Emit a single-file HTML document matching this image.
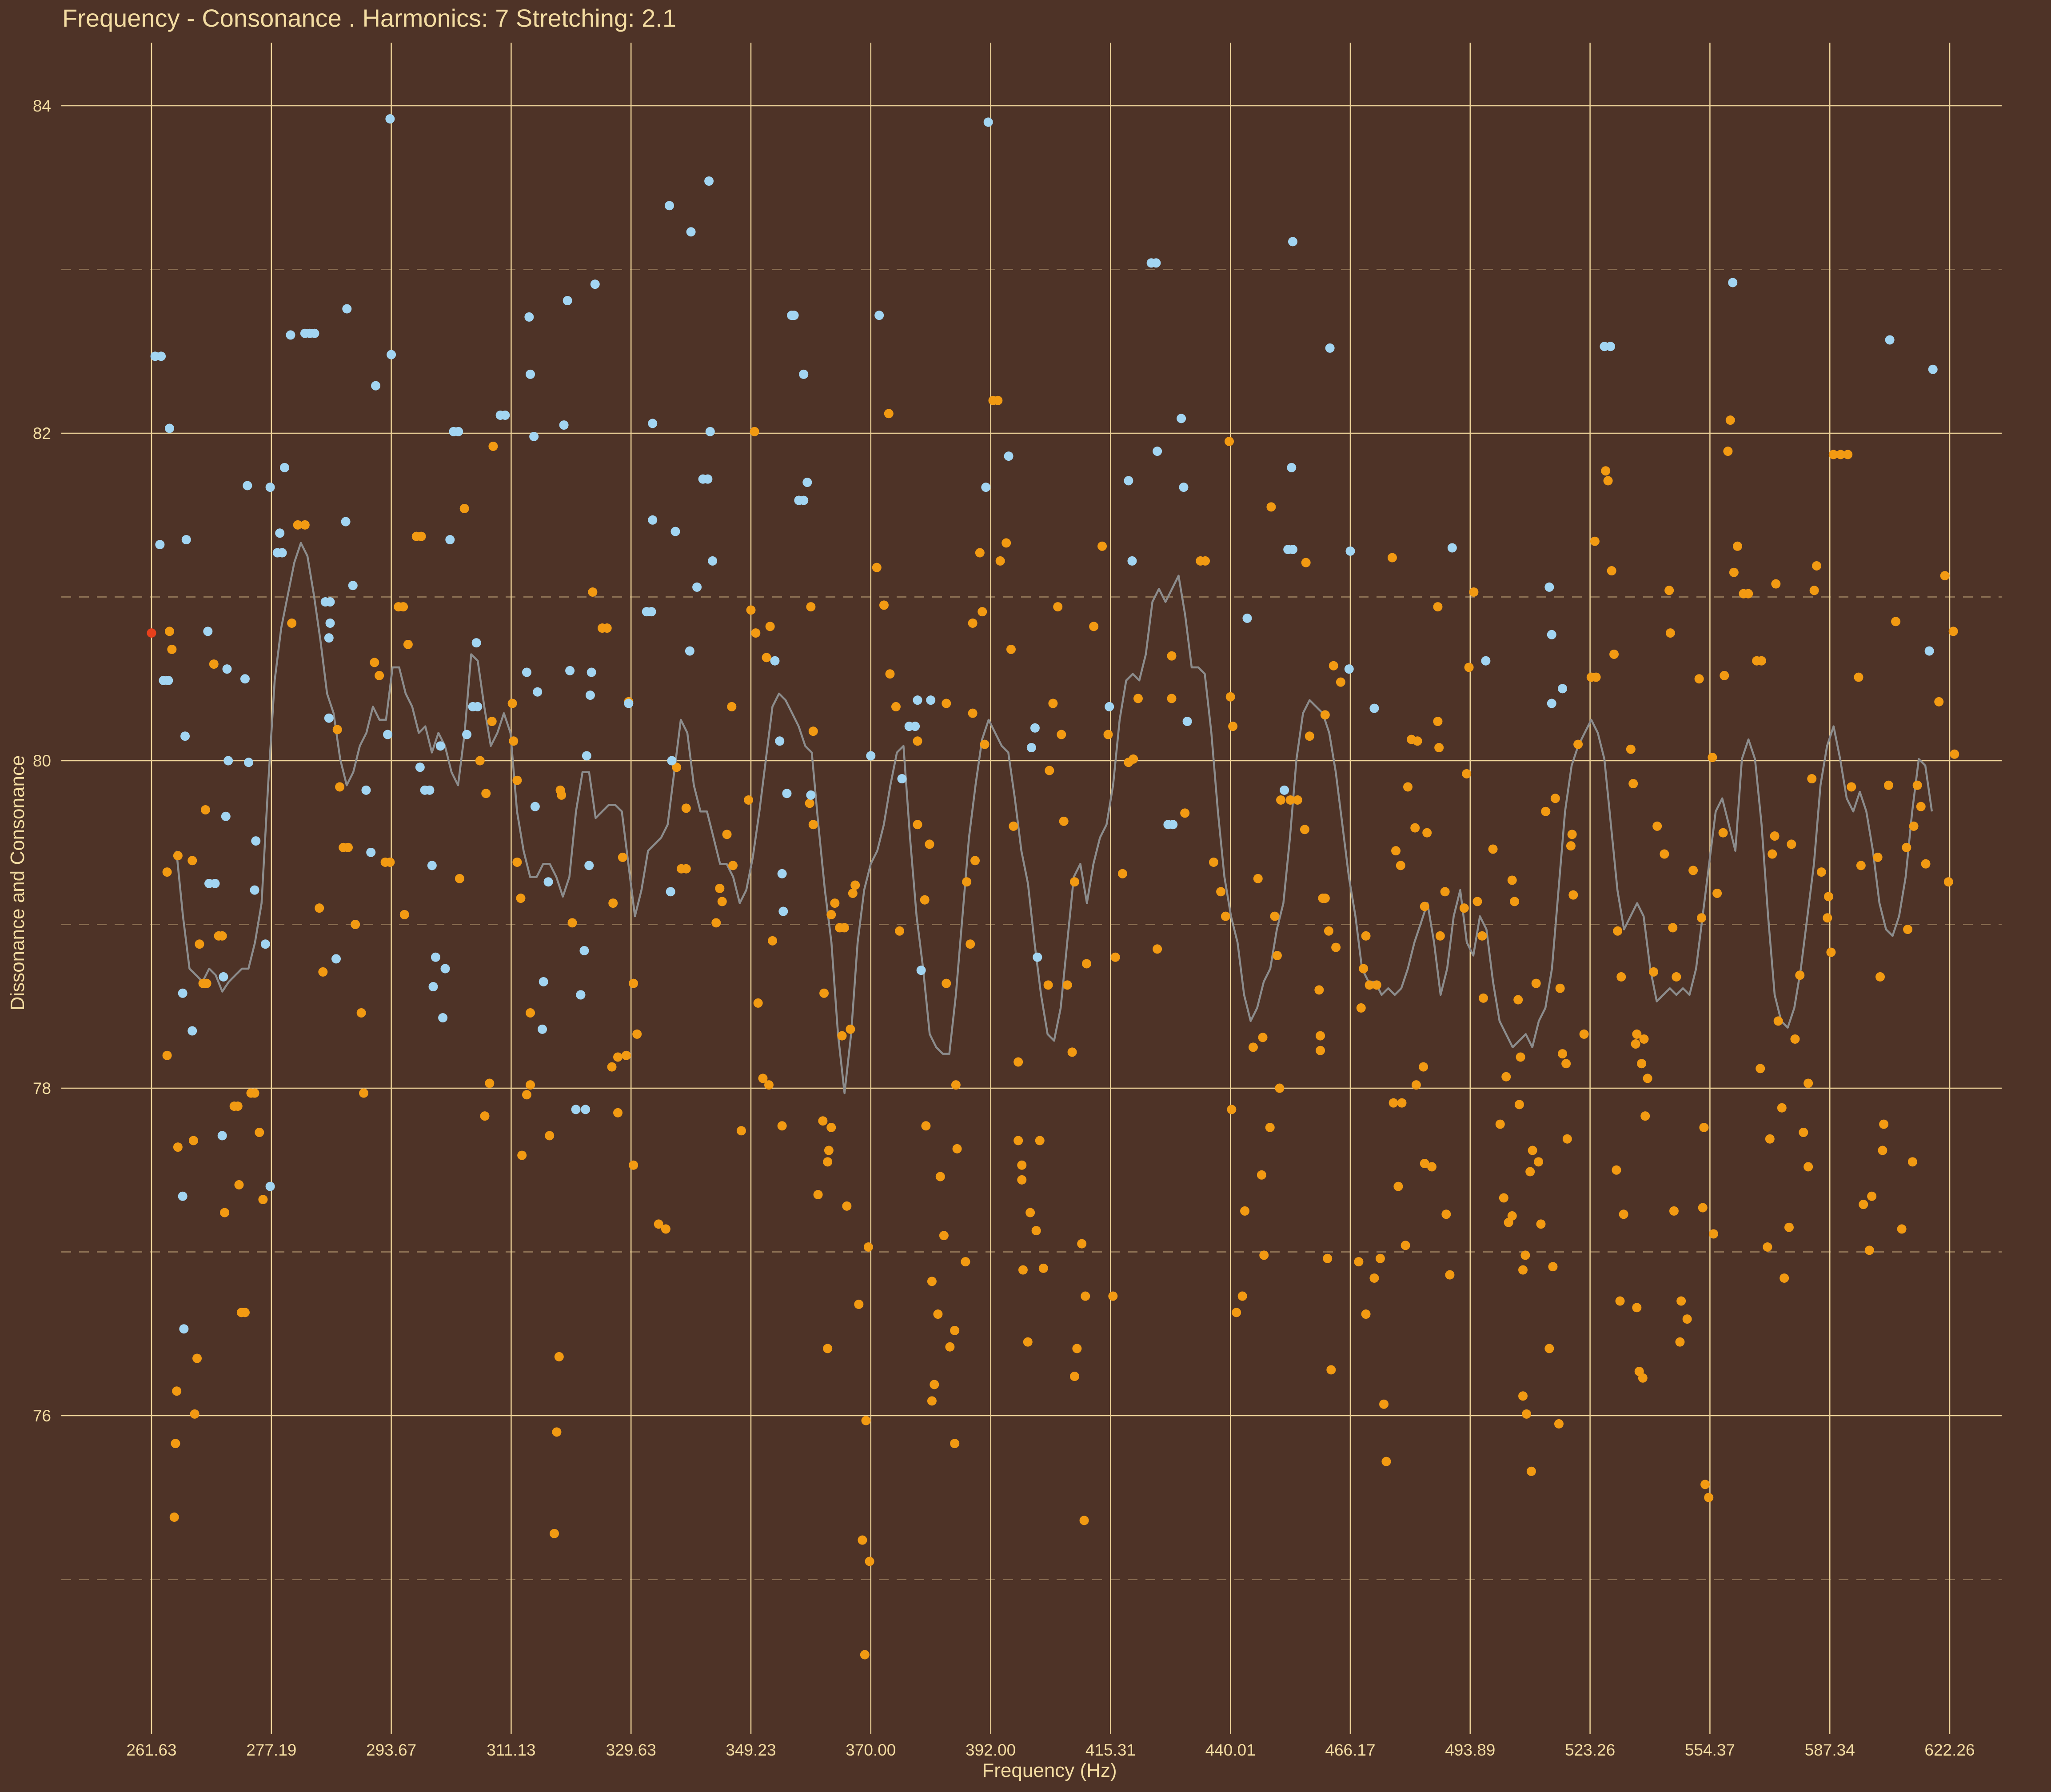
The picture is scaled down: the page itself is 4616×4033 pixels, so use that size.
<!DOCTYPE html>
<html><head><meta charset="utf-8"><style>
html,body{margin:0;padding:0;background:#4E3327;}
svg{display:block;font-family:"Liberation Sans",sans-serif;}
</style></head><body>
<svg id="chart" width="4616" height="4033" viewBox="0 0 4616 4033" xmlns="http://www.w3.org/2000/svg">
<rect x="0" y="0" width="4616" height="4033" fill="#4E3327"/>
<text x="140" y="60" font-size="56" fill="#F3DCA2">Frequency - Consonance . Harmonics: 7 Stretching: 2.1</text>
<g id="grid"></g>
<g id="axes"></g>
<g id="marks"></g>
<text x="2362" y="3999" font-size="44" fill="#F3DCA2" text-anchor="middle">Frequency (Hz)</text>
<text x="54" y="1987" font-size="44" fill="#F3DCA2" text-anchor="middle" transform="rotate(-90 54 1987)">Dissonance and Consonance</text>
</svg>
<script>
const xTickLabels = ["261.63","277.19","293.67","311.13","329.63","349.23","370.00","392.00","415.31","440.01","466.17","493.89","523.26","554.37","587.34","622.26"];
const yTickValues = [76,78,80,82,84];
const yMinorValues = [75,77,79,81,83];
// dissonant points (semitone offset from 261.63 Hz, consonance value)
const blueSemitones = [0.03,0.08,0.07,0.10,0.14,0.15,0.28,0.29,0.26,0.34,0.26,0.27,0.47,0.48,0.53,0.59,0.60,0.63,0.64,0.62,0.80,0.78,0.81,0.86,0.87,0.95,0.99,0.99,1.05,1.09,1.07,1.11,1.16,1.28,1.32,1.36,1.45,1.49,1.49,1.48,1.48,1.54,1.63,1.62,1.68,1.79,1.83,1.87,1.97,1.99,2.00,2.24,2.28,2.32,2.34,2.37,2.35,2.45,2.43,2.41,2.49,2.52,2.56,2.63,2.68,2.72,2.71,2.91,2.95,3.13,3.15,3.16,3.19,3.20,3.22,3.26,3.27,3.31,3.44,3.47,3.49,3.54,3.58,3.58,3.62,3.61,3.63,3.66,3.67,3.65,3.70,3.98,4.13,4.17,4.18,4.18,4.32,4.34,4.33,4.37,4.50,4.49,4.55,4.60,4.64,4.65,4.66,4.68,5.20,5.24,5.26,5.27,5.30,5.34,5.36,5.40,5.40,5.44,5.44,5.47,5.50,6.00,6.07,6.26,6.32,6.37,6.39,6.42,6.50,6.96,6.98,7.15,7.34,7.37,7.39,7.99,8.15,8.18,8.34,8.38,8.39,8.48,8.52,8.59,8.61,8.64,9.14,9.45,9.48,9.52,9.51,9.52,9.83,9.99,10.00,10.20,10.85,11.13,11.66,11.68,11.68,11.77,12.12,12.17,13.19,14.50,14.86,14.83];
const blueValues = [82.47,82.47,81.32,80.49,80.49,82.03,80.15,81.35,78.58,78.35,77.34,76.53,80.79,79.25,79.25,77.71,78.68,80.56,80.00,79.66,81.68,80.50,79.99,79.21,79.51,78.88,81.67,77.40,81.27,81.27,81.39,81.79,82.60,82.61,82.61,82.61,80.97,80.97,80.84,80.75,80.26,78.79,82.76,81.46,81.07,79.82,79.44,82.29,80.16,83.92,82.48,79.96,79.82,79.82,79.36,78.80,78.62,78.73,78.43,80.09,81.35,82.01,82.01,80.16,80.33,80.33,80.72,82.11,82.11,80.54,82.71,82.36,81.98,79.72,80.42,78.36,78.65,79.26,82.05,82.81,80.55,77.87,78.57,78.57,77.87,78.84,80.03,80.40,80.54,79.36,82.91,80.35,80.91,80.91,81.47,82.06,83.39,80.00,79.20,81.40,83.23,80.67,81.06,81.72,81.72,83.54,82.01,81.22,80.61,80.12,79.31,79.08,79.80,82.72,82.72,81.59,81.59,82.36,81.59,81.70,79.79,80.03,82.72,79.89,80.21,80.21,80.37,78.72,80.37,81.67,83.90,81.86,80.08,80.20,78.80,80.33,81.71,81.22,83.04,83.04,81.89,79.61,79.61,82.09,81.67,80.24,80.87,79.82,81.29,81.29,81.79,83.17,82.52,80.56,81.28,80.32,81.30,80.61,81.06,80.77,80.35,80.44,82.53,82.53,82.92,82.57,82.39,80.67];
// consonant points
const orangeSemitones = [0.15,0.13,0.13,0.17,0.22,0.22,0.21,0.20,0.19,0.34,0.35,0.38,0.36,0.40,0.43,0.46,0.45,0.52,0.56,0.59,0.61,0.69,0.72,0.73,0.75,0.78,0.83,0.86,0.90,0.93,1.17,1.22,1.28,1.40,1.43,1.55,1.57,1.60,1.64,1.70,1.75,1.77,1.86,1.90,1.95,1.99,2.06,2.10,2.11,2.14,2.21,2.25,2.57,2.61,2.74,2.79,2.78,2.82,2.85,2.84,3.01,3.02,3.05,3.05,3.08,3.09,3.13,3.16,3.16,3.41,3.42,3.32,3.36,3.38,3.40,3.51,3.68,3.76,3.80,3.85,3.84,3.89,3.89,3.93,3.96,3.98,4.02,4.05,4.02,4.23,4.29,4.42,4.46,4.38,4.46,4.71,4.74,4.76,4.80,4.85,4.84,4.92,4.98,5.00,5.03,5.04,5.06,5.10,5.15,5.13,5.16,5.18,5.26,5.49,5.52,5.52,5.50,5.56,5.61,5.60,5.64,5.65,5.67,5.64,5.67,5.70,5.74,5.78,5.76,5.83,5.85,5.80,5.87,5.90,5.93,5.96,5.98,5.99,5.95,6.05,6.11,6.15,6.16,6.21,6.24,6.39,6.39,6.45,6.46,6.49,6.51,6.51,6.53,6.58,6.61,6.56,6.63,6.63,6.66,6.70,6.70,6.71,6.72,6.79,6.80,6.83,6.85,6.85,6.87,6.91,6.93,6.95,7.02,7.06,7.08,7.13,7.17,7.19,7.23,7.23,7.26,7.26,7.27,7.31,7.33,7.38,7.41,7.44,7.48,7.49,7.52,7.56,7.59,7.61,7.64,7.68,7.70,7.70,7.72,7.76,7.78,7.79,7.80,7.86,7.93,7.98,8.02,8.04,8.10,8.15,8.19,8.23,8.39,8.51,8.51,8.62,8.75,8.79,8.86,8.92,8.96,8.99,9.00,9.01,9.02,9.05,9.10,9.12,9.19,9.23,9.26,9.27,9.28,9.33,9.34,9.37,9.39,9.41,9.42,9.50,9.56,9.62,9.63,9.66,9.74,9.75,9.75,9.77,9.79,9.79,9.81,9.82,9.84,9.86,9.88,9.92,10.07,10.09,10.11,10.13,10.13,10.16,10.20,10.22,10.25,10.28,10.30,10.35,10.36,10.38,10.40,10.42,10.43,10.46,10.48,10.51,10.55,10.54,10.56,10.61,10.62,10.62,10.64,10.68,10.73,10.74,10.73,10.75,10.79,10.80,10.83,10.95,10.97,10.99,11.03,11.06,11.10,11.11,11.19,11.25,11.28,11.30,11.32,11.35,11.35,11.37,11.40,11.41,11.42,11.44,11.44,11.46,11.47,11.50,11.51,11.52,11.55,11.57,11.59,11.63,11.66,11.69,11.71,11.74,11.75,11.77,11.80,11.81,11.84,11.85,11.86,11.90,11.95,12.01,12.05,12.04,12.13,12.15,12.18,12.20,12.23,12.22,12.25,12.26,12.28,12.34,12.36,12.38,12.39,12.39,12.41,12.43,12.44,12.45,12.48,12.46,12.53,12.56,12.62,12.66,12.67,12.69,12.70,12.72,12.75,12.76,12.81,12.86,12.91,12.93,12.94,12.95,12.96,12.99,13.02,13.03,13.06,13.11,13.12,13.15,13.17,13.20,13.23,13.28,13.32,13.39,13.43,13.42,13.48,13.50,13.52,13.54,13.55,13.57,13.60,13.62,13.66,13.68,13.71,13.75,13.78,13.82,13.82,13.85,13.87,13.89,13.93,13.98,13.99,14.01,14.03,14.09,14.15,14.18,14.24,14.26,14.28,14.33,14.35,14.40,14.42,14.44,14.45,14.49,14.55,14.60,14.64,14.65,14.69,14.70,14.73,14.76,14.80,14.91,14.96,14.99,15.03,15.04];
const orangeValues = [80.79,79.32,78.20,80.68,79.42,77.64,76.15,75.83,75.38,79.39,77.68,76.35,76.01,78.88,78.64,78.64,79.70,80.59,78.93,78.93,77.24,77.89,77.89,77.41,76.63,76.63,77.97,77.97,77.73,77.32,80.84,81.44,81.44,79.10,78.71,80.19,79.84,79.47,79.47,79.00,78.46,77.97,80.60,80.52,79.38,79.38,80.94,80.94,79.06,80.71,81.37,81.37,79.28,81.54,80.00,79.80,77.83,78.03,81.92,80.24,80.35,80.12,79.88,79.38,79.16,77.59,77.96,78.02,78.46,79.82,79.79,77.71,75.28,75.90,76.36,79.01,81.03,80.81,80.81,79.13,78.13,78.19,77.85,79.41,78.20,80.36,78.64,78.33,77.53,77.17,77.14,79.34,79.34,79.96,79.71,79.01,79.22,79.14,79.55,79.36,80.33,77.74,79.76,80.92,82.01,80.78,78.52,78.06,78.02,80.63,80.82,78.90,77.77,79.74,79.61,80.18,80.94,77.35,78.58,77.80,77.55,77.62,77.76,76.41,79.06,79.13,78.98,78.98,78.32,78.36,79.19,77.28,79.24,76.68,75.24,75.97,77.03,75.11,74.54,81.18,80.95,82.12,80.53,80.33,78.96,79.61,80.12,79.15,77.77,79.49,76.82,76.09,76.19,77.46,77.10,76.62,80.35,78.64,76.42,75.83,76.52,78.02,77.63,76.94,79.26,78.88,80.29,80.84,79.39,81.27,80.91,80.10,82.20,82.20,81.22,81.33,80.68,79.60,78.16,77.68,77.53,77.44,76.89,76.45,77.24,77.13,77.68,76.90,78.63,79.94,80.35,80.94,80.16,79.63,78.63,78.22,79.26,76.24,76.41,77.05,75.36,76.73,78.76,80.82,81.31,80.16,76.73,78.80,79.31,79.99,80.01,80.38,78.85,80.64,80.38,79.68,81.22,81.22,79.38,79.20,79.05,81.95,80.39,77.87,80.21,76.63,76.73,77.25,78.25,79.28,77.47,78.31,76.98,77.76,81.55,79.05,78.81,78.00,79.76,79.76,79.76,79.58,81.21,80.15,78.60,78.23,78.32,79.16,79.16,80.28,76.96,78.96,76.28,80.58,78.86,80.48,76.94,78.49,78.73,76.62,78.93,78.63,76.84,78.63,76.96,76.07,75.72,81.24,77.91,79.45,77.40,79.36,77.91,77.04,79.84,80.13,78.02,79.59,80.12,78.13,79.11,77.54,79.56,77.52,80.24,80.08,80.94,78.93,79.20,77.23,76.86,79.10,79.92,80.57,81.03,79.14,78.93,78.55,79.46,77.78,77.33,78.07,77.18,77.22,79.27,79.14,78.54,77.90,78.19,76.89,76.12,76.98,76.01,77.49,75.66,77.62,78.64,77.55,77.17,79.69,76.41,76.91,79.77,75.95,78.61,78.21,78.15,77.69,79.48,79.55,79.18,80.10,78.33,80.51,80.51,81.34,81.77,81.71,81.16,80.65,78.96,77.50,76.70,78.68,77.23,80.07,79.86,78.27,78.33,76.66,76.27,78.15,76.23,78.30,78.06,77.83,78.71,79.60,79.43,81.04,80.78,78.98,77.25,78.68,76.45,76.70,76.59,79.33,80.50,79.04,77.27,77.76,75.58,75.50,80.02,77.11,79.19,79.56,80.52,81.89,82.08,81.15,81.31,81.02,81.02,80.61,80.61,78.12,77.03,77.69,79.43,79.54,81.08,78.41,77.88,76.84,77.15,79.49,78.30,78.69,77.73,78.03,77.52,79.89,81.04,81.19,79.32,79.04,79.17,78.83,81.87,81.87,81.87,79.84,80.51,79.36,77.29,77.01,77.34,79.41,78.68,77.62,77.78,79.85,80.85,77.14,79.47,78.97,77.55,79.60,79.85,79.72,79.37,80.36,81.13,79.26,80.79,80.04];
const highlightSemitone = [0.0];
const highlightValue = [80.78];
// smoothed curve
const lineStartSemitone = 0.2077;
const lineStepSemitone = 0.05464;
const lineValues = [79.45,79.05,78.73,78.69,78.65,78.73,78.69,78.59,78.65,78.69,78.73,78.73,78.89,79.13,79.85,80.49,80.81,81.01,81.21,81.33,81.25,81.01,80.73,80.41,80.29,80.01,79.85,79.93,80.09,80.17,80.33,80.25,80.25,80.57,80.57,80.41,80.33,80.17,80.21,80.05,80.17,80.09,79.93,79.85,80.17,80.65,80.61,80.33,80.09,80.17,80.29,80.17,79.69,79.45,79.29,79.29,79.37,79.37,79.29,79.17,79.29,79.69,79.93,79.93,79.65,79.69,79.73,79.73,79.69,79.37,79.05,79.21,79.45,79.49,79.53,79.61,79.93,80.25,80.17,79.85,79.69,79.69,79.53,79.37,79.37,79.29,79.13,79.21,79.41,79.69,80.01,80.33,80.41,80.37,80.29,80.21,80.09,80.05,79.61,79.21,78.89,78.33,77.97,78.33,78.89,79.21,79.37,79.45,79.61,79.85,80.05,80.09,79.53,79.05,78.73,78.33,78.25,78.21,78.21,78.57,79.05,79.53,79.85,80.13,80.25,80.17,80.09,80.05,79.77,79.45,79.25,78.89,78.57,78.33,78.29,78.49,78.89,79.29,79.37,79.13,79.37,79.53,79.61,79.85,80.25,80.49,80.53,80.49,80.65,80.97,81.05,80.97,81.05,81.13,80.89,80.57,80.57,80.53,80.17,79.69,79.29,79.05,78.89,78.57,78.41,78.49,78.65,78.73,78.97,79.13,79.53,80.01,80.29,80.37,80.33,80.29,80.17,79.93,79.61,79.29,79.05,78.73,78.65,78.65,78.57,78.61,78.57,78.61,78.73,78.89,79.01,79.13,78.89,78.57,78.73,79.05,79.21,78.89,78.81,79.05,78.97,78.65,78.41,78.33,78.25,78.29,78.33,78.25,78.41,78.49,78.73,79.21,79.69,79.97,80.09,80.17,80.25,80.17,80.01,79.61,79.21,78.97,79.05,79.13,79.05,78.73,78.53,78.57,78.61,78.57,78.61,78.57,78.73,79.05,79.37,79.69,79.77,79.61,79.45,80.01,80.13,80.01,79.61,79.05,78.57,78.41,78.37,78.49,78.73,79.05,79.37,79.85,80.09,80.21,80.01,79.77,79.69,79.81,79.69,79.45,79.13,78.97,78.93,79.05,79.29,79.69,80.01,79.97,79.69];

const NS = "http://www.w3.org/2000/svg";
const X0 = 341, XSTEP = 269.8, Y84 = 238, YUNIT = 368.5;
const PLOT_L = 138, PLOT_R = 4505, PLOT_T = 96, PLOT_B = 3903;
function xScale(s){ return X0 + s * XSTEP; }
function yScale(v){ return Y84 + (84 - v) * YUNIT; }
function mk(tag, attrs, parent){
  const e = document.createElementNS(NS, tag);
  for (const k in attrs) e.setAttribute(k, attrs[k]);
  parent.appendChild(e);
  return e;
}
const grid = document.getElementById('grid');
const axes = document.getElementById('axes');
const marks = document.getElementById('marks');

yMinorValues.forEach(v => {
  const l = mk('line', {x1: PLOT_L, x2: PLOT_R, y1: yScale(v), y2: yScale(v), stroke: '#8A6E52', 'stroke-width': 3, 'stroke-dasharray': '22 18'}, grid);
  
  
});
yTickValues.forEach(v => {
  const l = mk('line', {x1: PLOT_L, x2: PLOT_R, y1: yScale(v), y2: yScale(v), stroke: '#EED49A', 'stroke-width': 2.5}, grid);
  
  
  const t = mk('text', {x: 115, y: yScale(v) + 13, 'font-size': 37, fill: '#F3DCA2', 'text-anchor': 'end'}, axes);
  t.textContent = v;
  
  
});
xTickLabels.forEach((lab, i) => {
  const l = mk('line', {x1: xScale(i), x2: xScale(i), y1: PLOT_T, y2: PLOT_B, stroke: '#EED49A', 'stroke-width': 2.5}, grid);
  
  
  const t = mk('text', {x: xScale(i), y: 3951, 'font-size': 37, fill: '#F3DCA2', 'text-anchor': 'middle'}, axes);
  t.textContent = lab;
  
  
});

// line
let d = '';
lineValues.forEach((v, i) => {
  const s = lineStartSemitone + i * lineStepSemitone;
  d += (i ? 'L' : 'M') + xScale(s).toFixed(1) + ' ' + yScale(v).toFixed(1);
});
const path = mk('path', {d: d, fill: 'none', stroke: '#8C8C8C', 'stroke-width': 4.5, 'stroke-linejoin': 'round'}, marks);



orangeSemitones.forEach((s, i) => {
  const c = mk('circle', {cx: xScale(s), cy: yScale(orangeValues[i]), r: 10.5, fill: '#F29A12'}, marks);
  
  
});
blueSemitones.forEach((s, i) => {
  const c = mk('circle', {cx: xScale(s), cy: yScale(blueValues[i]), r: 10.5, fill: '#A2D5F2'}, marks);
  
  
});
highlightSemitone.forEach((s, i) => {
  const c = mk('circle', {cx: xScale(s), cy: yScale(highlightValue[i]), r: 10.5, fill: '#E8401C'}, marks);
  
  
});
</script>
</body></html>
